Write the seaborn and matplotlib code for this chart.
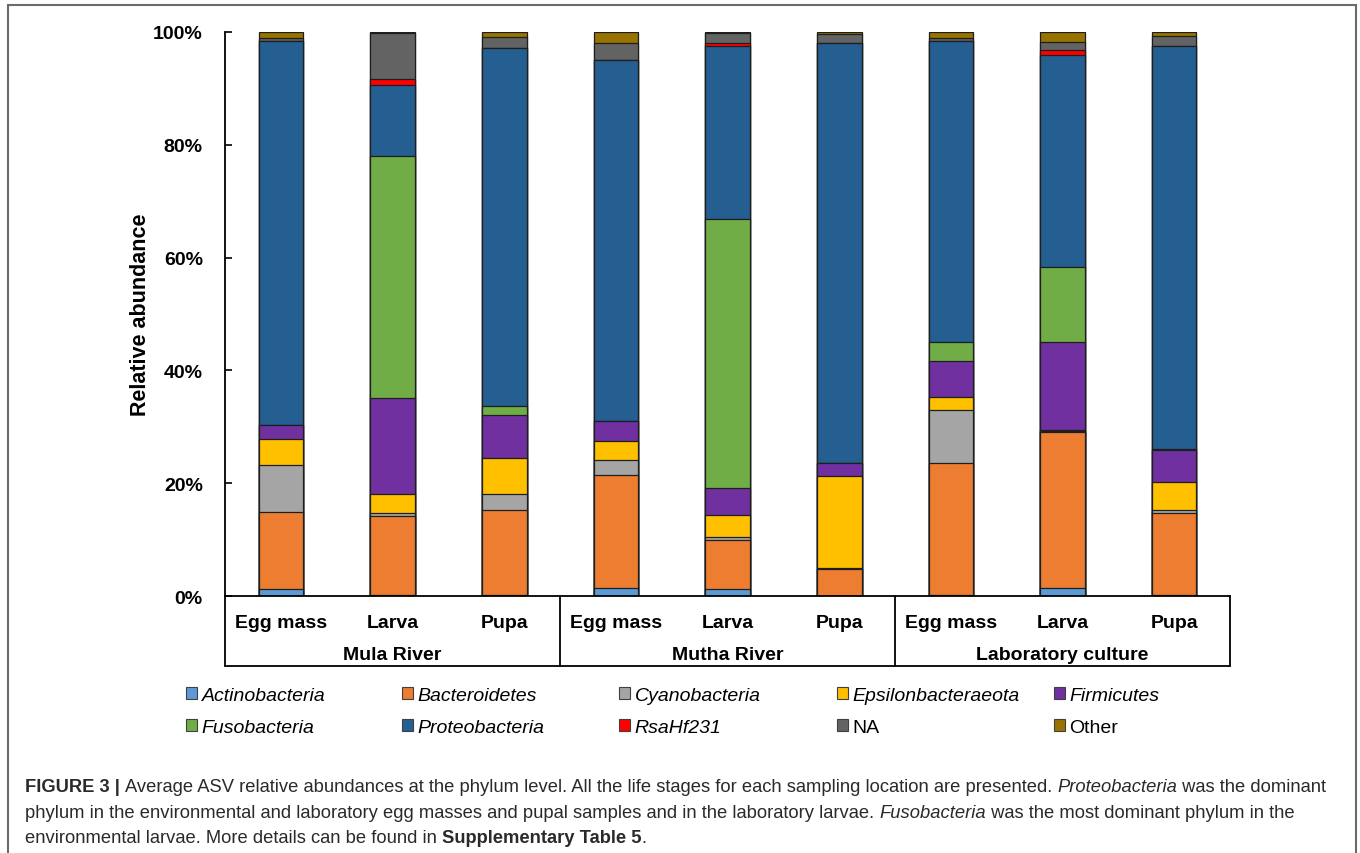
import matplotlib
matplotlib.use("Agg")
import matplotlib.pyplot as plt
from matplotlib.patches import Patch, Rectangle
import matplotlib.transforms as mtransforms
import seaborn as sns
import pandas as pd

# ---- data (percent of reads) ----
groups = ["Mula River", "Mutha River", "Laboratory culture"]
stages = ["Egg mass", "Larva", "Pupa"]

phyla = ["Actinobacteria", "Bacteroidetes", "Cyanobacteria", "Epsilonbacteraeota",
         "Firmicutes", "Fusobacteria", "Proteobacteria", "RsaHf231", "NA", "Other"]

actinobacteria = [1.2, 0.2, 0.2, 1.5, 1.2, 0.0, 0.1, 1.4, 0.1]
bacteroidetes = [13.7, 14.0, 15.0, 20.0, 8.7, 4.8, 23.5, 27.6, 14.6]
cyanobacteria = [8.4, 0.5, 2.8, 2.7, 0.6, 0.1, 9.4, 0.3, 0.5]
epsilonbacteraeota = [4.5, 3.4, 6.5, 3.2, 3.9, 16.3, 2.3, 0.2, 5.1]
firmicutes = [2.5, 17.0, 7.6, 3.6, 4.8, 2.3, 6.4, 15.5, 5.6]
fusobacteria = [0.0, 42.9, 1.6, 0.0, 47.7, 0.0, 3.3, 13.3, 0.1]
proteobacteria = [68.1, 12.6, 63.4, 64.0, 30.7, 74.5, 53.4, 37.7, 71.6]
rsahf231 = [0.0, 1.0, 0.0, 0.0, 0.5, 0.0, 0.0, 0.8, 0.0]
na_reads = [0.6, 8.2, 2.0, 3.1, 1.8, 1.6, 0.6, 1.4, 1.7]
other = [1.0, 0.2, 0.9, 1.9, 0.1, 0.4, 1.0, 1.8, 0.7]

colors = ["#5B9BD5", "#ED7D31", "#A5A5A5", "#FFC000", "#7030A0",
          "#70AD47", "#255E91", "#FF0000", "#636363", "#997300"]
italic_names = ["Actinobacteria", "Bacteroidetes", "Cyanobacteria", "Epsilonbacteraeota",
                "Firmicutes", "Fusobacteria", "Proteobacteria", "RsaHf231"]

samples = [g + "|" + s for g in groups for s in stages]
df = pd.DataFrame(
    [actinobacteria, bacteroidetes, cyanobacteria, epsilonbacteraeota, firmicutes,
     fusobacteria, proteobacteria, rsahf231, na_reads, other],
    index=phyla, columns=samples).T
cum = df.cumsum(axis=1)

sns.set_theme(style="white")
plt.rcParams["font.family"] = ["Liberation Sans", "DejaVu Sans"]
plt.rcParams["text.color"] = "black"
plt.rcParams["xtick.color"] = "black"
plt.rcParams["ytick.color"] = "black"

fig = plt.figure(figsize=(13.6, 8.54), dpi=100)
ax = fig.add_axes([225 / 1360, 1 - 597 / 854, 1005 / 1360, 564 / 854])

# stacked bars: draw cumulative totals from the top layer down
for i in range(len(phyla) - 1, -1, -1):
    sns.barplot(x=samples, y=cum[phyla[i]].values, color=colors[i], saturation=1,
                width=0.4, edgecolor="#1e1e1e", linewidth=0.9, errorbar=None, ax=ax)

ax.set_xlim(-0.5, 8.5)
ax.set_ylim(0, 100)
ax.set_yticks(range(0, 101, 20))
ax.set_yticklabels([f"{v}%" for v in range(0, 101, 20)], fontsize=14, fontweight="bold")
ax.set_xticks(range(len(samples)))
ax.set_xticklabels([s for g in groups for s in stages], fontsize=14, fontweight="bold")
ax.tick_params(axis="y", direction="in", length=5, width=1.2, pad=16, left=True, colors="black")
ax.tick_params(axis="x", length=0, pad=13, colors="black")
ax.set_xlabel("")
ax.set_ylabel("")
for side in ["top", "right"]:
    ax.spines[side].set_visible(False)
for side in ["left", "bottom"]:
    ax.spines[side].set_color("black")
    ax.spines[side].set_linewidth(1.3)

# category box under the axis
trans = mtransforms.blended_transform_factory(ax.transData, ax.transAxes)
ybot = -70 / 564
for xs in [-0.5, 2.5, 5.5, 8.5]:
    ax.plot([xs, xs], [0, ybot], color="black", lw=1.3, transform=trans, clip_on=False)
ax.plot([-0.5, 8.5], [ybot, ybot], color="black", lw=1.3, transform=trans, clip_on=False)
for k, g in enumerate(groups):
    ax.text(3 * k + 1, -58 / 564, g, transform=trans, ha="center", va="center",
            fontsize=14, fontweight="bold")

fig.text(140 / 1360, 1 - 315 / 854, "Relative abundance", rotation=90, ha="center",
         va="center", fontsize=15.5, fontweight="bold")

# legend: five columns of two entries
handles = [Patch(facecolor=c, edgecolor="#404040", linewidth=0.8) for c in colors]
col_x = [186, 402, 619, 837, 1054]
for k in range(5):
    leg = fig.legend([handles[k], handles[k + 5]], [phyla[k], phyla[k + 5]],
                     loc="upper left", bbox_to_anchor=(col_x[k] / 1360, 1 - 688 / 854),
                     frameon=False, fontsize=14, handlelength=0.55, handleheight=0.55,
                     handletextpad=0.25, labelspacing=0.75, borderpad=0, borderaxespad=0)
    for t in leg.get_texts():
        t.set_color("black")
        if t.get_text() in italic_names:
            t.set_style("italic")

# caption
caption = [
    [("FIGURE 3 | ", "bold", "normal"),
     ("Average ASV relative abundances at the phylum level. All the life stages for each "
      "sampling location are presented. ", "normal", "normal"),
     ("Proteobacteria", "normal", "italic"), (" was the dominant", "normal", "normal")],
    [("phylum in the environmental and laboratory egg masses and pupal samples and in the "
      "laboratory larvae. ", "normal", "normal"),
     ("Fusobacteria", "normal", "italic"),
     (" was the most dominant phylum in the", "normal", "normal")],
    [("environmental larvae. More details can be found in ", "normal", "normal"),
     ("Supplementary Table 5", "bold", "normal"), (".", "normal", "normal")],
]
line_y = [792, 818, 843]
for line, yb in zip(caption, line_y):
    prev = None
    for txt, wt, st in line:
        if prev is None:
            prev = fig.text(25 / 1360, 1 - yb / 854, txt, fontsize=13.2, fontweight=wt,
                            style=st, va="baseline", ha="left", color="#2a2a2a")
        else:
            prev = ax.annotate(txt, xy=(1, 0), xycoords=prev, va="bottom", ha="left",
                               fontsize=13.2, fontweight=wt, style=st, color="#2a2a2a",
                               annotation_clip=False)

# outer frame of the figure panel
fig.patches.append(Rectangle((8 / 1360, -0.05), 1348 / 1360, 1.05 - 6 / 854,
                             transform=fig.transFigure, fill=False,
                             edgecolor="#6b6b6b", linewidth=1.5))

fig.savefig("out.png", dpi=100)
